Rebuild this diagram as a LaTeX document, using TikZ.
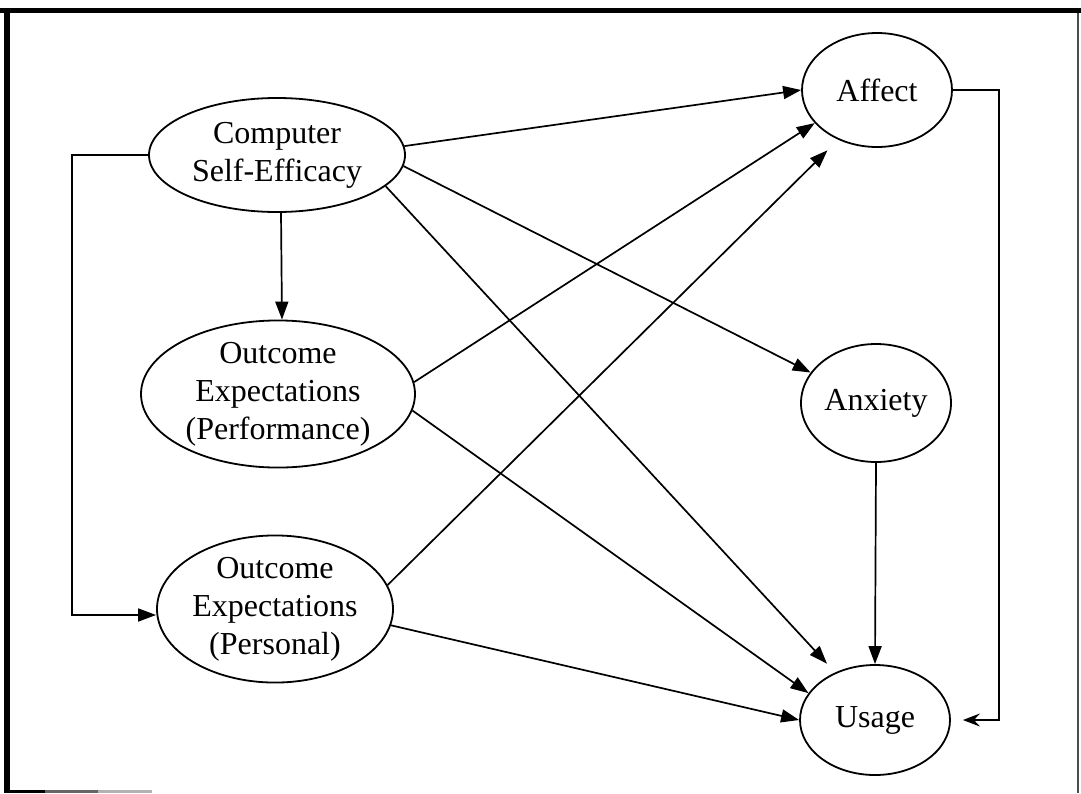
\documentclass[tikz,border=0pt]{standalone}
\usepackage{fontspec}
\setmainfont{Liberation Serif}
\usetikzlibrary{shapes.geometric,arrows.meta}

\begin{document}
\begin{tikzpicture}[x=0.5pt,y=-0.5pt,
  construct/.style={ellipse,draw,line width=0.9pt,inner sep=0pt,align=center,
    font=\fontsize{16}{19}\selectfont},
  link/.style={line width=0.85pt,-{Triangle[length=9pt,width=6.5pt]}},
  back/.style={line width=0.85pt,-{Stealth[length=8.5pt,width=6.5pt,inset=3pt]}}]
 \useasboundingbox (0,0) rectangle (1081,793);
 % frame
 \draw[line width=2.5pt] (0,10.5) -- (1081,10.5);
 \draw[line width=3pt] (7,8) -- (7,793);
 \draw[line width=0.6pt,black!70] (1078,13) -- (1078,793);
 \draw[line width=1.5pt] (4,791) -- (45,791);
 \draw[line width=1.5pt,black!60] (45,791) -- (98,791);
 \draw[line width=1.5pt,black!30] (98,791) -- (152,791);
 %
 \node[construct,minimum width=128pt,minimum height=57pt] (cse) at (277,155)
   {Computer\\Self-Efficacy};
 \node[construct,minimum width=137pt,minimum height=72pt] (perf) at (278,394)
   {Outcome\\Expectations\\(Performance)};
 \node[construct,minimum width=118pt,minimum height=72pt] (personal) at (275,609)
   {Outcome\\Expectations\\(Personal)};
 \node[construct,minimum width=75pt,minimum height=57pt] (affect) at (877,90) {Affect};
 \node[construct,minimum width=75pt,minimum height=59pt] (anxiety) at (876,403) {Anxiety};
 \node[construct,minimum width=75pt,minimum height=55pt] (usage) at (875,720) {Usage};
 %
 \draw[link] (cse.4) -- (affect.west);
 \draw[link] (cse.-5) -- (anxiety.155);
 \draw[link,shorten >=6pt] (cse.-16) -- (usage.130);
 \draw[link] ([xshift=2pt]cse.south) -- ([xshift=2pt]perf.north);
 \draw[link] (cse.west) -- ++(-38pt,0) |- ([yshift=-3pt]personal.west);
 \draw[link] (perf.5) -- (affect.208);
 \draw[link] (perf.-7) -- (usage.158);
 \draw[link,shorten >=7.5pt] (personal.12) -- (affect.232);
 \draw[link] (personal.-8) -- (usage.west);
 \draw[link] (anxiety.south) -- (usage.north);
 \draw[back] (affect.east) -| ([xshift=24pt]usage.east) -- ([xshift=6pt]usage.east);
\end{tikzpicture}
\end{document}
